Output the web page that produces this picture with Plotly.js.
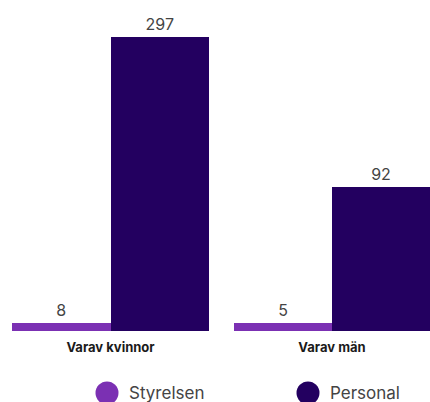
<!DOCTYPE html>
<html><head><meta charset="utf-8">
<script src="https://cdn.plot.ly/plotly-3.0.1.min.js"></script>
<style>html,body{margin:0;padding:0;background:#fff;overflow:hidden}</style>
</head><body><div id="chart" style="width:430px;height:402px"></div>
<script>
const categories = ["Varav kvinnor", "Varav män"];
const seriesNames = ["Styrelsen", "Personal"];
const styrelsen = [8, 5];
const personal = [297, 92];
const colors = ["#7b30b3", "#230060"];
const yRanges = [[0, 324], [0, 205]];

const W = 430, H = 402;
const font = "Inter, 'Noto Sans', sans-serif";
const traces = [];
const series = [styrelsen, personal];
categories.forEach((cat, i) => {
  const ax = i === 0 ? '' : '2';
  series.forEach((vals, s) => {
    traces.push({
      type: 'bar', x: [cat], y: [vals[i]], name: seriesNames[s],
      xaxis: 'x' + ax, yaxis: 'y' + ax,
      marker: {color: colors[s]},
      text: [String(vals[i])], textposition: 'outside',
      textfont: {family: font, size: 16, color: '#444'},
      cliponaxis: false, showlegend: false, hoverinfo: 'skip'
    });
  });
});

const yDom = [(H - 331) / H, 0.975];
const xAx = {type: 'category', showline: false, showgrid: false, zeroline: false, ticks: '',
  ticklabelstandoff: 7,
  tickfont: {family: font, size: 13, color: '#1a1a1a', weight: 'bold'}, fixedrange: true};
const yAx = {showline: false, showgrid: false, zeroline: false, showticklabels: false, ticks: '', domain: yDom, fixedrange: true};

const shapes = [], annotations = [];
const legendX = [107, 308];
seriesNames.forEach((n, s) => {
  const cx = legendX[s], cy = 393, r = 11.5;
  shapes.push({type: 'circle', xref: 'paper', yref: 'paper',
    x0: (cx - r) / W, x1: (cx + r) / W, y0: (H - cy - r) / H, y1: (H - cy + r) / H,
    fillcolor: colors[s], line: {width: 0}});
  annotations.push({xref: 'paper', yref: 'paper', x: (cx + 20) / W, y: (H - cy) / H,
    xanchor: 'left', yanchor: 'middle', showarrow: false, text: n,
    font: {family: font, size: 17, color: '#444'}});
});

const layout = {
  width: W, height: H, margin: {l: 0, r: 0, t: 0, b: 0},
  paper_bgcolor: '#fff', plot_bgcolor: '#fff',
  barmode: 'group', bargap: 0, bargroupgap: 0, showlegend: false,
  xaxis: Object.assign({}, xAx, {domain: [12 / W, 209 / W], anchor: 'y'}),
  yaxis: Object.assign({}, yAx, {range: yRanges[0], anchor: 'x'}),
  xaxis2: Object.assign({}, xAx, {domain: [234 / W, 1], anchor: 'y2'}),
  yaxis2: Object.assign({}, yAx, {range: yRanges[1], anchor: 'x2'}),
  shapes: shapes, annotations: annotations
};
Plotly.newPlot('chart', traces, layout, {displayModeBar: false, staticPlot: true});
</script></body></html>
